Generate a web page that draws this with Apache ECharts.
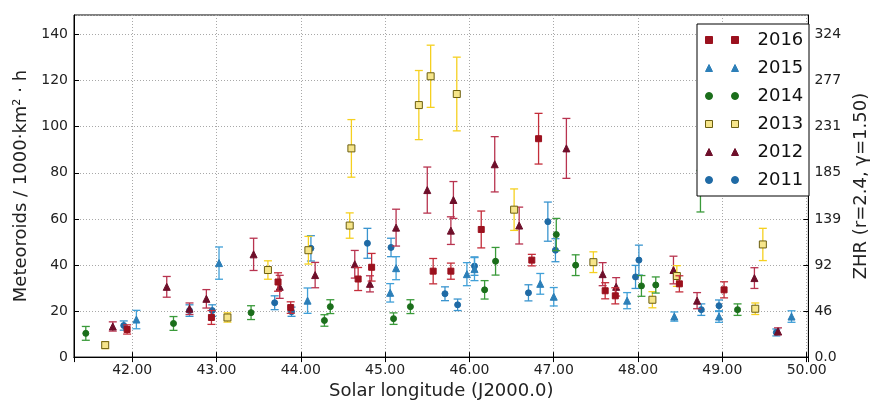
<!DOCTYPE html>
<html>
<head>
<meta charset="utf-8">
<script src="https://cdn.jsdelivr.net/npm/echarts@6/dist/echarts.min.js"></script>
<style>html,body{margin:0;padding:0;background:#fff;}#c{width:878px;height:405px;}</style>
</head>
<body>
<div id="c"></div>
<script>
// ---- data ----
const x2016 = [41.94, 42.94, 43.73, 43.88, 44.68, 44.84, 45.57, 45.78, 46.14, 46.74, 46.82, 47.61, 47.73, 48.49, 49.02];
const y2016 = [12.0, 17.2, 32.6, 21.5, 33.9, 39.0, 37.3, 37.3, 55.4, 42.1, 94.8, 28.8, 26.6, 31.8, 29.2];
const e2016 = [2.0, 3.0, 4.0, 2.5, 5.0, 6.0, 5.5, 3.5, 8.0, 2.5, 11.0, 3.5, 3.5, 3.5, 3.5];

const x2015 = [42.05, 43.03, 44.08, 45.06, 45.13, 45.97, 46.06, 46.84, 47.00, 47.87, 48.43, 48.96, 49.82];
const y2015 = [16.3, 40.8, 24.5, 27.9, 38.6, 36.0, 38.2, 31.8, 26.2, 24.5, 17.6, 17.6, 17.6];
const e2015 = [4.0, 7.0, 5.5, 4.0, 5.0, 5.0, 5.0, 4.5, 4.0, 3.5, 2.0, 2.5, 2.5];

const x2014 = [41.45, 42.49, 43.41, 44.28, 44.35, 45.10, 45.30, 46.18, 46.31, 47.03, 47.26, 48.04, 48.21, 48.74, 49.18];
const y2014 = [10.3, 14.6, 19.3, 15.9, 21.9, 16.7, 21.9, 29.2, 41.6, 53.2, 39.9, 30.9, 31.3, 72.0, 20.6];
const e2014 = [3.0, 3.0, 3.0, 2.5, 3.0, 2.5, 3.0, 4.0, 6.0, 7.0, 4.5, 4.5, 3.5, 9.0, 2.5];

const x2013 = [41.68, 43.13, 43.61, 44.09, 44.58, 44.60, 45.40, 45.54, 45.85, 46.53, 47.47, 48.17, 48.46, 49.39, 49.48];
const y2013 = [5.2, 17.2, 37.8, 46.4, 57.1, 90.6, 109.4, 121.9, 114.2, 64.0, 41.2, 24.9, 35.2, 21.0, 48.9];
const e2013 = [1.5, 2.0, 4.0, 6.0, 5.5, 12.5, 15.0, 13.5, 16.0, 9.0, 4.5, 3.5, 4.5, 2.5, 7.0];

const x2012 = [41.77, 42.41, 42.68, 42.88, 43.44, 43.75, 44.17, 44.64, 44.82, 45.13, 45.50, 45.78, 45.81, 46.30, 46.59, 47.15, 47.58, 47.74, 48.42, 48.70, 49.38, 49.66];
const y2012 = [13.3, 30.5, 21.0, 25.3, 44.6, 30.5, 35.6, 40.3, 31.8, 56.2, 72.5, 54.9, 68.2, 83.7, 57.1, 90.6, 36.0, 30.5, 37.8, 24.5, 34.3, 11.2];
const e2012 = [2.0, 4.5, 2.5, 4.0, 7.0, 5.0, 5.5, 6.0, 3.5, 8.0, 10.0, 6.0, 8.0, 12.0, 8.0, 13.0, 5.0, 4.0, 6.0, 3.5, 4.5, 1.5];

const x2011 = [41.90, 42.68, 42.95, 43.69, 43.89, 44.12, 44.79, 45.07, 45.71, 45.86, 46.06, 46.70, 46.93, 47.02, 47.97, 48.01, 48.75, 48.96, 49.64];
const y2011 = [13.7, 20.2, 20.2, 23.6, 19.7, 47.2, 49.4, 47.6, 27.5, 22.7, 39.5, 27.9, 58.8, 46.4, 34.8, 42.1, 20.6, 22.3, 10.7];
const e2011 = [2.0, 2.5, 2.5, 3.0, 2.0, 5.5, 6.5, 4.0, 3.0, 2.5, 4.0, 3.5, 8.5, 5.0, 5.0, 6.5, 2.5, 2.5, 1.5];

const zhrLabels = ["0.0", "46", "92", "139", "185", "231", "277", "324"];
const legendNames = ["2016", "2015", "2014", "2013", "2012", "2011"];

// ---- styles ----
const FONT = "DejaVu Sans";
const styles = {
  "2016": {symbol: "rect", size: 6, color: "#9b111e", border: "#9b111e", err: "#c42d3a", x: x2016, y: y2016, e: e2016},
  "2015": {symbol: "triangle", size: 7, color: "#2c7fb8", border: "#2c7fb8", err: "#41a0d8", x: x2015, y: y2015, e: e2015},
  "2014": {symbol: "circle", size: 6, color: "#1b6e1b", border: "#1b6e1b", err: "#3a9a3a", x: x2014, y: y2014, e: e2014},
  "2013": {symbol: "rect", size: 7, color: "#f6e58a", border: "#6b5e10", err: "#f5d020", x: x2013, y: y2013, e: e2013},
  "2012": {symbol: "triangle", size: 7, color: "#6e0f2a", border: "#6e0f2a", err: "#b8334f", x: x2012, y: y2012, e: e2012},
  "2011": {symbol: "circle", size: 6, color: "#1f6aa5", border: "#1f6aa5", err: "#3a95cf", x: x2011, y: y2011, e: e2011}
};

const drawOrder = ["2011", "2012", "2013", "2014", "2015", "2016"];
const series = [];
drawOrder.forEach(function (name, idx) {
  const s = styles[name];
  const data = s.x.map(function (xv, i) { return [xv, s.y[i], s.e[i]]; });
  series.push({
    name: name,
    type: "custom",
    z: 2 + idx * 0.1,
    data: data,
    encode: {x: 0, y: 1},
    renderItem: function (params, api) {
      const xv = api.value(0), yv = api.value(1), ev = api.value(2);
      const lo = api.coord([xv, yv - ev]);
      const hi = api.coord([xv, yv + ev]);
      const w = 4;
      const st = {stroke: s.err, lineWidth: 1.3};
      return {
        type: "group",
        children: [
          {type: "line", shape: {x1: lo[0], y1: lo[1], x2: hi[0], y2: hi[1]}, style: st},
          {type: "line", shape: {x1: lo[0] - w, y1: lo[1], x2: lo[0] + w, y2: lo[1]}, style: st},
          {type: "line", shape: {x1: hi[0] - w, y1: hi[1], x2: hi[0] + w, y2: hi[1]}, style: st}
        ]
      };
    }
  });
  series.push({
    name: name,
    type: "scatter",
    z: 2.05 + idx * 0.1,
    symbol: s.symbol,
    symbolSize: s.size,
    data: data.map(function (d) { return [d[0], d[1]]; }),
    itemStyle: {color: s.color, borderColor: s.border, borderWidth: 1, opacity: 1}
  });
});

const legendData = legendNames.map(function (n) {
  const s = styles[n];
  return {name: n, icon: s.symbol, itemStyle: {color: s.color, borderColor: s.border, borderWidth: 1}};
});

const gridLine = {show: true, lineStyle: {color: "#a8a8a8", type: [1, 2], width: 1}};
const tick = {show: true, inside: true, length: 5, lineStyle: {color: "#000"}};

const chart = echarts.init(document.getElementById("c"), null, {renderer: "canvas"});
chart.setOption({
  animation: false,
  backgroundColor: "#fff",
  textStyle: {fontFamily: FONT},
  grid: {left: 74, top: 15, width: 743, height: 346, show: true, borderColor: "#000", borderWidth: 1, backgroundColor: "#fff", containLabel: false},
  xAxis: [{
    type: "value", min: 41.31, max: 50.02, minInterval: 1, maxInterval: 1, position: "bottom",
    name: "Solar longitude (J2000.0)", nameLocation: "middle", nameGap: 24,
    nameTextStyle: {fontSize: 18, color: "#222", fontFamily: FONT},
    axisLine: {show: true, lineStyle: {color: "#000", width: 1}},
    axisTick: tick,
    axisLabel: {fontSize: 14, color: "#222", fontFamily: FONT, margin: 6, showMinLabel: false, showMaxLabel: false,
      formatter: function (v) { return v.toFixed(2); }},
    splitLine: gridLine
  }, {
    type: "value", min: 41.31, max: 50.02, minInterval: 1, maxInterval: 1, position: "top",
    axisLine: {show: true, lineStyle: {color: "#000", width: 1}},
    axisTick: tick, axisLabel: {show: false}, splitLine: {show: false}
  }],
  yAxis: [{
    type: "value", min: 0, max: 148.5, interval: 20, position: "left",
    name: "Meteoroids / 1000·km² · h", nameLocation: "middle", nameGap: 44, nameRotate: 90,
    nameTextStyle: {fontSize: 18, color: "#222", fontFamily: FONT},
    axisLine: {show: true, lineStyle: {color: "#000", width: 1}},
    axisTick: tick,
    axisLabel: {fontSize: 14, color: "#222", fontFamily: FONT, margin: 6, showMaxLabel: false},
    splitLine: gridLine
  }, {
    type: "value", min: 0, max: 148.5, interval: 20, position: "right",
    name: "ZHR (r=2.4, γ=1.50)", nameLocation: "middle", nameGap: 38, nameRotate: 90,
    nameTextStyle: {fontSize: 18, color: "#222", fontFamily: FONT},
    axisLine: {show: true, lineStyle: {color: "#000", width: 1}},
    axisTick: tick,
    axisLabel: {fontSize: 14, color: "#222", fontFamily: FONT, margin: 6, showMaxLabel: false,
      formatter: function (v) { return zhrLabels[Math.round(v / 20)] || ""; }},
    splitLine: {show: false}
  }],
  graphic: {
    elements: [{
      type: "rect", zlevel: 1, z: 0, silent: true,
      shape: {x: 697, y: 24, width: 112, height: 172},
      style: {fill: "#fff", stroke: "#000", lineWidth: 1}
    }]
  },
  legend: [{
    data: legendData, orient: "vertical", left: 705, top: 30, zlevel: 1, z: 5,
    itemWidth: 7, itemHeight: 7, itemGap: 8, padding: 0,
    formatter: function () { return " "; },
    textStyle: {fontSize: 18, lineHeight: 20, height: 20},
    selectedMode: false
  }, {
    data: legendData, orient: "vertical", left: 731, top: 30, zlevel: 1, z: 5,
    itemWidth: 7, itemHeight: 7, itemGap: 8, padding: 0,
    textStyle: {fontSize: 18, color: "#111", fontFamily: FONT, padding: [0, 0, 0, 14], lineHeight: 20, height: 20},
    selectedMode: false
  }],
  series: series
});
</script>
</body>
</html>
